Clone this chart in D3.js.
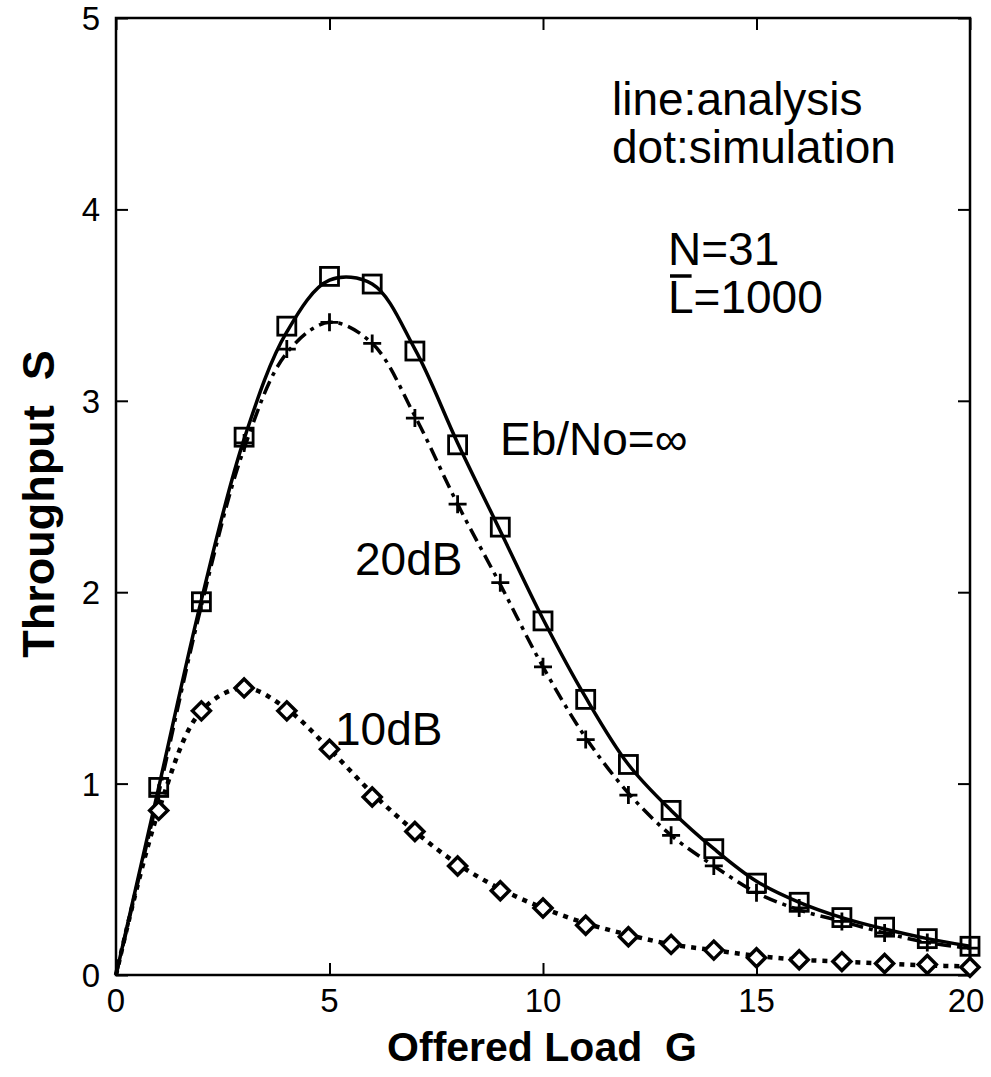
<!DOCTYPE html>
<meta charset="utf-8">
<title>Throughput vs offered load</title>
<style>
body {
  margin: 0;
  background: #fff;
  font-family: "Liberation Sans", Arial, sans-serif;
}
</style>
<body>
</body>
<script src="https://cdn.jsdelivr.net/npm/d3@7"></script>
<script>

var width = 991,
    height = 1077;

// offered load G (simulation points at every integer)
var loads = d3.range(0, 21);

// analysis curves at G = 0..20
var lineInf = [0, 0.98, 1.96, 2.80, 3.36, 3.63, 3.61, 3.27, 2.78, 2.32, 1.86,
               1.45, 1.10, 0.86, 0.66, 0.49, 0.38, 0.30, 0.24, 0.19, 0.15];
var line20 = [0, 0.95, 1.93, 2.75, 3.25, 3.41, 3.30, 2.92, 2.46, 2.04, 1.61,
              1.24, 0.95, 0.73, 0.57, 0.43, 0.34, 0.28, 0.22, 0.17, 0.14];
var line10 = [0, 0.86, 1.38, 1.50, 1.39, 1.18, 0.95, 0.75, 0.58, 0.45, 0.35,
              0.27, 0.21, 0.16, 0.13, 0.10, 0.08, 0.07, 0.06, 0.05, 0.045];

// simulation points (G = 1..20)
var simInf = [0.98, 1.95, 2.81, 3.39, 3.65, 3.61, 3.26, 2.77, 2.34, 1.85,
              1.44, 1.10, 0.86, 0.66, 0.48, 0.38, 0.30, 0.25, 0.19, 0.15];
var sim20 = [0.95, 1.95, 2.78, 3.27, 3.41, 3.30, 2.91, 2.46, 2.05, 1.61,
             1.23, 0.94, 0.73, 0.57, 0.43, 0.35, 0.28, 0.22, 0.17, 0.14];
var sim10 = [0.86, 1.38, 1.50, 1.38, 1.18, 0.93, 0.75, 0.57, 0.44, 0.35,
             0.26, 0.20, 0.16, 0.13, 0.09, 0.08, 0.07, 0.06, 0.055, 0.04];

var xTicks = [0, 5, 10, 15, 20];
var yTicks = [0, 1, 2, 3, 4, 5];

var svg = d3.select("body").append("svg")
    .attr("width", width)
    .attr("height", height);

var x = d3.scaleLinear().domain([0, 20]).range([116, 970]);
var y = d3.scaleLinear().domain([0, 5]).range([975, 18]);

// inward ticks on all four sides
var tl = 12;
svg.append("g")
    .attr("transform", "translate(0," + y(0) + ")")
    .call(d3.axisTop(x).tickValues(xTicks).tickSize(tl).tickFormat(""));
svg.append("g")
    .attr("transform", "translate(0," + y(5) + ")")
    .call(d3.axisBottom(x).tickValues(xTicks).tickSize(tl).tickFormat(""));
svg.append("g")
    .attr("transform", "translate(" + x(0) + ",0)")
    .call(d3.axisRight(y).tickValues(yTicks).tickSize(tl).tickFormat(""));
svg.append("g")
    .attr("transform", "translate(" + x(20) + ",0)")
    .call(d3.axisLeft(y).tickValues(yTicks).tickSize(tl).tickFormat(""));
svg.selectAll(".domain").remove();
svg.selectAll(".tick line").attr("stroke", "#000").attr("stroke-width", 2);

// frame
svg.append("rect")
    .attr("x", x(0)).attr("y", y(5))
    .attr("width", x(20) - x(0)).attr("height", y(0) - y(5))
    .attr("fill", "none").attr("stroke", "#000").attr("stroke-width", 2.5);

// tick labels
svg.selectAll(".xl").data(xTicks).enter().append("text")
    .attr("x", function(d) { return Math.min(x(d), 966); })
    .attr("y", 1012)
    .attr("text-anchor", "middle")
    .style("font-size", "33px")
    .text(function(d) { return d; });
svg.selectAll(".yl").data(yTicks).enter().append("text")
    .attr("x", 100)
    .attr("y", function(d) { return y(d) + 12; })
    .attr("text-anchor", "end")
    .style("font-size", "33px")
    .text(function(d) { return d; });

// axis titles
svg.append("text")
    .attr("x", 542).attr("y", 1061)
    .attr("text-anchor", "middle")
    .style("font-size", "41px").style("font-weight", "bold")
    .attr("xml:space", "preserve")
    .text("Offered Load  G");
svg.append("text")
    .attr("transform", "translate(54,504) rotate(-90)")
    .attr("text-anchor", "middle")
    .style("font-size", "45px").style("font-weight", "bold")
    .attr("xml:space", "preserve")
    .text("Throughput  S");

// analysis lines
var line = d3.line()
    .x(function(d, i) { return x(loads[i]); })
    .y(function(d) { return y(d); })
    .curve(d3.curveCatmullRom);

svg.append("path").datum(lineInf)
    .attr("d", line).attr("fill", "none")
    .attr("stroke", "#000").attr("stroke-width", 3.5);
svg.append("path").datum(line20)
    .attr("d", line).attr("fill", "none")
    .attr("stroke", "#000").attr("stroke-width", 3.5)
    .attr("stroke-dasharray", "14,6,4,6");
svg.append("path").datum(line10)
    .attr("d", line).attr("fill", "none")
    .attr("stroke", "#000").attr("stroke-width", 4.5)
    .attr("stroke-dasharray", "5,6");

// simulation markers
var simG = loads.slice(1);
var ms = 9;

svg.selectAll(".sq").data(simInf).enter().append("rect")
    .attr("x", function(d, i) { return x(simG[i]) - ms; })
    .attr("y", function(d) { return y(d) - ms; })
    .attr("width", ms * 2).attr("height", ms * 2)
    .attr("fill", "none").attr("stroke", "#000").attr("stroke-width", 2.8);

svg.selectAll(".pl").data(sim20).enter().append("path")
    .attr("d", function(d, i) {
      var cx = x(simG[i]), cy = y(d);
      return "M" + (cx - ms) + "," + cy + "H" + (cx + ms) +
             "M" + cx + "," + (cy - ms) + "V" + (cy + ms);
    })
    .attr("fill", "none").attr("stroke", "#000").attr("stroke-width", 2.8);

svg.selectAll(".dm").data(sim10).enter().append("path")
    .attr("d", function(d, i) {
      var cx = x(simG[i]), cy = y(d), r = 9;
      return "M" + (cx - r) + "," + cy + "L" + cx + "," + (cy - r) +
             "L" + (cx + r) + "," + cy + "L" + cx + "," + (cy + r) + "Z";
    })
    .attr("fill", "#fff").attr("stroke", "#000").attr("stroke-width", 3.5);

// annotations
function note(tx, ty, s) {
  return svg.append("text")
      .attr("x", tx).attr("y", ty)
      .style("font-size", "46px")
      .text(s);
}
note(612, 115, "line:analysis");
note(612, 163, "dot:simulation");
note(668, 265, "N=31");
var lt = note(668, 313, "L=1000");
var lw = lt.node().getSubStringLength(0, 1);
svg.append("line")
    .attr("x1", 670).attr("x2", 668 + lw - 2)
    .attr("y1", 276).attr("y2", 276)
    .attr("stroke", "#000").attr("stroke-width", 3.5);
note(500, 455, "Eb/No=\u221e");
note(355, 575, "20dB");
note(335, 745, "10dB");

</script>
